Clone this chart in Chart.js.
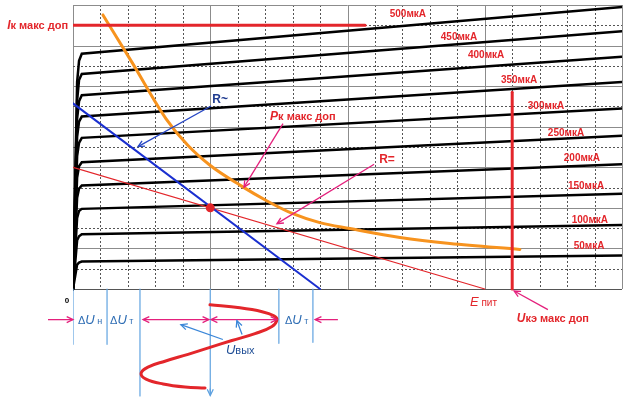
<!DOCTYPE html>
<html>
<head>
<meta charset="utf-8">
<script src="https://cdn.jsdelivr.net/npm/chart.js@4/dist/chart.umd.min.js"></script>
<style>
 body { margin: 0; background: #fff; }
 canvas { display: block; }
</style>
</head>
<body>
<canvas id="chart" width="636" height="401"></canvas>
<script>
 // grid units: x = Uкэ (20 cells), y = Iк (14 cells)
 const kneeX = [0, 0.15, 0.22, 0.32, 20];
 const baseLabels = ['500мкА', '450мкА', '400мкА', '350мкА', '300мкА', '250мкА', '200мкА', '150мкА', '100мкА', '50мкА'];
 const ib500 = [0, 10.2, 11.25, 11.6, 13.9];
 const ib450 = [0, 9.3, 10.3, 10.6, 12.7];
 const ib400 = [0, 8.4, 9.25, 9.55, 11.45];
 const ib350 = [0, 7.5, 8.25, 8.5, 10.2];
 const ib300 = [0, 6.55, 7.2, 7.45, 8.9];
 const ib250 = [0, 5.5, 6.05, 6.25, 7.55];
 const ib200 = [0, 4.5, 4.95, 5.1, 6.15];
 const ib150 = [0, 3.5, 3.85, 3.95, 4.7];
 const ib100 = [0, 2.4, 2.6, 2.7, 3.15];
 const ib50 = [0, 1.2, 1.3, 1.35, 1.65];
 const curves = [ib500, ib450, ib400, ib350, ib300, ib250, ib200, ib150, ib100, ib50];

 const pMaxX = [1.09, 2.15, 3.39, 4.19, 4.99, 6.08, 7.07, 8.01, 8.99, 10.09, 11.91, 13.73, 16.28];
 const pMaxY = [13.51, 11.17, 8.39, 7.07, 6.1, 5.12, 4.34, 3.71, 3.27, 2.98, 2.54, 2.24, 1.95];

 const loadAcX = [0, 9];
 const loadAcY = [9.15, 0];
 const loadDcX = [0, 15];
 const loadDcY = [6, 0];
 const qPoint = [5, 4];
 const ikMaxX = [0, 10.64];
 const ikMaxY = [13, 13];
 const ukeMaxX = [16, 16];
 const ukeMaxY = [0, 9.7];

 const sineX = [4.99, 6.08, 6.89, 7.32, 7.43, 7.25, 6.63, 5.79, 4.99, 4.19, 3.35, 2.73, 2.48, 2.66, 3.28, 4.08, 4.81];
 const sineY = [-0.78, -0.93, -1.12, -1.32, -1.51, -1.85, -2.2, -2.54, -2.88, -3.22, -3.56, -3.85, -4.15, -4.44, -4.68, -4.83, -4.88];

 const dropX = [0, 1.24, 2.44, 5, 7.5, 8.74];
 const dropY = [-2.73, -2.73, -5.3, -5.15, -2.68, -2.63];

 const RED = '#e3262b';
 const PINK = '#e4207c';
 const FF = '"Liberation Sans", Arial, sans-serif';

 const toPoints = (xs, ys) => xs.map((x, i) => ({ x: x, y: ys[i] }));

 const datasets = [];
 curves.forEach((c, i) => {
     datasets.push({ label: baseLabels[i], data: toPoints(kneeX, c), borderColor: '#000', borderWidth: 2.5, order: 10 });
 });
 dropX.forEach((x, i) => {
     datasets.push({ data: toPoints([x, x], [0, dropY[i]]), borderColor: '#5fa2e0', borderWidth: 1.2, order: 6 });
 });
 datasets.push({ data: toPoints(loadDcX, loadDcY), borderColor: RED, borderWidth: 1.2, order: 5 });
 datasets.push({ data: toPoints(loadAcX, loadAcY), borderColor: '#1a2fd0', borderWidth: 2, order: 4 });
 datasets.push({ data: toPoints(pMaxX, pMaxY), borderColor: '#f7931e', borderWidth: 3, cubicInterpolationMode: 'monotone', order: 3 });
 datasets.push({ data: toPoints(ikMaxX, ikMaxY), borderColor: RED, borderWidth: 3, order: 2 });
 datasets.push({ data: toPoints(ukeMaxX, ukeMaxY), borderColor: RED, borderWidth: 3, order: 2 });
 datasets.push({ data: toPoints(sineX, sineY), borderColor: RED, borderWidth: 3, tension: 0.4, order: 1 });
 datasets.push({ data: [{ x: qPoint[0], y: qPoint[1] }], showLine: false, pointRadius: 4.5, pointBackgroundColor: RED, pointBorderWidth: 0, order: 0 });

 // text and arrows, in grid units
 const curveLabelAt = [[12.2, 13.61], [14.06, 12.49], [15.05, 11.56], [16.25, 10.34], [17.23, 9.07],
     [17.96, 7.76], [18.54, 6.49], [18.69, 5.12], [18.83, 3.46], [18.8, 2.15]];

 const notes = [
     { runs: [['I', 'italic bold 12px'], ['к макс доп', 'bold 11px']], at: [-0.18, 13.02], align: 'right', color: RED },
     { runs: [['P', 'italic bold 12px'], ['к макс доп', 'bold 11px']], at: [7.18, 8.54], align: 'left', color: RED },
     { runs: [['R~', 'bold 12px']], at: [5.36, 9.37], align: 'center', color: '#1f3b8f' },
     { runs: [['R=', 'bold 12px']], at: [11.44, 6.39], align: 'center', color: RED },
     { runs: [['0', 'bold 8px']], at: [-0.22, -0.49], align: 'center', color: '#000' },
     { runs: [['E', 'italic 13px'], [' пит', '10px']], at: [14.46, -0.63], align: 'left', color: RED },
     { runs: [['U', 'italic bold 12px'], ['кэ макс доп', 'bold 11px']], at: [16.17, -1.41], align: 'left', color: RED },
     { runs: [['Δ', '11px'], ['U', 'italic 13px'], [' н', '9px']], at: [0.18, -1.51], align: 'left', color: '#2e6db4' },
     { runs: [['Δ', '11px'], ['U', 'italic 13px'], [' т', '9px']], at: [1.35, -1.51], align: 'left', color: '#2e6db4' },
     { runs: [['Δ', '11px'], ['U', 'italic 13px'], [' т', '9px']], at: [7.72, -1.51], align: 'left', color: '#2e6db4' },
     { runs: [['U', 'italic 13px'], ['вых', '11px']], at: [5.57, -3.02], align: 'left', color: '#1f4e96' }
 ];

 const arrows = [
     { from: [5.03, 9.02], to: [2.37, 7.02], color: '#2747c4' },
     { from: [7.65, 8.15], to: [6.23, 5.02], color: PINK },
     { from: [10.97, 6.15], to: [7.43, 3.22], color: PINK },
     { from: [17.3, -1.02], to: [16.07, -0.1], color: PINK },
     { from: [-0.91, -1.51], to: [0, -1.51], color: PINK },
     { from: [2.55, -1.51], to: [4.95, -1.51], color: PINK, both: true },
     { from: [5.03, -1.51], to: [7.43, -1.51], color: PINK, both: true },
     { from: [9.65, -1.51], to: [8.82, -1.51], color: PINK },
     { from: [5.46, -2.49], to: [3.93, -1.76], color: '#3a86d8' },
     { from: [6.16, -2.24], to: [5.97, -1.56], color: '#3a86d8' },
     { from: [5, -4.9], to: [5, -5.25], color: '#5fa2e0' }
 ];

 function head(ctx, x, y, ang) {
     const s = 7;
     ctx.beginPath();
     ctx.moveTo(x - s * Math.cos(ang - 0.45), y - s * Math.sin(ang - 0.45));
     ctx.lineTo(x, y);
     ctx.lineTo(x - s * Math.cos(ang + 0.45), y - s * Math.sin(ang + 0.45));
     ctx.stroke();
 }

 const gridPlugin = {
     id: 'grid',
     beforeDatasetsDraw(chart) {
         const ctx = chart.ctx;
         const sx = chart.scales.x, sy = chart.scales.y;
         const top = sy.getPixelForValue(14), bottom = sy.getPixelForValue(0);
         const left = sx.getPixelForValue(0), right = sx.getPixelForValue(20);
         ctx.save();
         ctx.lineWidth = 1;
         for (let i = 0; i <= 20; i++) {
             const major = i % 5 === 0;
             const x = Math.round(sx.getPixelForValue(i)) + 0.5;
             ctx.setLineDash(major ? [] : [2, 2]);
             ctx.strokeStyle = major ? '#8c8c8c' : '#555';
             ctx.beginPath();
             ctx.moveTo(x, top);
             ctx.lineTo(x, bottom);
             ctx.stroke();
         }
         for (let j = 0; j <= 14; j++) {
             const major = j % 2 === 0;
             const y = Math.round(sy.getPixelForValue(j)) + 0.5;
             ctx.setLineDash(major ? [] : [2, 2]);
             ctx.strokeStyle = j === 0 ? '#555' : (major ? '#8c8c8c' : '#555');
             ctx.beginPath();
             ctx.moveTo(left, y);
             ctx.lineTo(right, y);
             ctx.stroke();
         }
         ctx.restore();
     },
     afterDatasetsDraw(chart) {
         const ctx = chart.ctx;
         const sx = chart.scales.x, sy = chart.scales.y;
         ctx.save();
         ctx.textBaseline = 'alphabetic';
         ctx.textAlign = 'left';
         baseLabels.forEach((t, i) => {
             ctx.font = 'bold 10px ' + FF;
             ctx.fillStyle = RED;
             const w = ctx.measureText(t).width;
             ctx.fillText(t, sx.getPixelForValue(curveLabelAt[i][0]) - w / 2, sy.getPixelForValue(curveLabelAt[i][1]) + 4);
         });
         notes.forEach(n => {
             let w = 0;
             n.runs.forEach(r => { ctx.font = r[1] + ' ' + FF; w += ctx.measureText(r[0]).width; });
             let x = sx.getPixelForValue(n.at[0]);
             if (n.align === 'right') x -= w;
             if (n.align === 'center') x -= w / 2;
             const y = sy.getPixelForValue(n.at[1]) + 4;
             ctx.fillStyle = n.color;
             n.runs.forEach(r => {
                 ctx.font = r[1] + ' ' + FF;
                 ctx.fillText(r[0], x, y);
                 x += ctx.measureText(r[0]).width;
             });
         });
         ctx.lineWidth = 1.3;
         arrows.forEach(a => {
             const x1 = sx.getPixelForValue(a.from[0]), y1 = sy.getPixelForValue(a.from[1]);
             const x2 = sx.getPixelForValue(a.to[0]), y2 = sy.getPixelForValue(a.to[1]);
             ctx.strokeStyle = a.color;
             ctx.beginPath();
             ctx.moveTo(x1, y1);
             ctx.lineTo(x2, y2);
             ctx.stroke();
             const ang = Math.atan2(y2 - y1, x2 - x1);
             head(ctx, x2, y2, ang);
             if (a.both) head(ctx, x1, y1, ang + Math.PI);
         });
         ctx.restore();
     }
 };

 new Chart(document.getElementById('chart'), {
     type: 'line',
     data: { datasets: datasets },
     options: {
         responsive: false,
         animation: false,
         layout: { padding: { left: 73, right: 14, top: 5, bottom: 0 } },
         elements: { point: { radius: 0 }, line: { tension: 0, borderCapStyle: 'round' } },
         plugins: { legend: { display: false }, tooltip: { enabled: false } },
         scales: {
             x: { type: 'linear', min: 0, max: 20, display: false },
             y: { type: 'linear', min: -5.3, max: 14, display: false }
         }
     },
     plugins: [gridPlugin]
 });
</script>
</body>
</html>
